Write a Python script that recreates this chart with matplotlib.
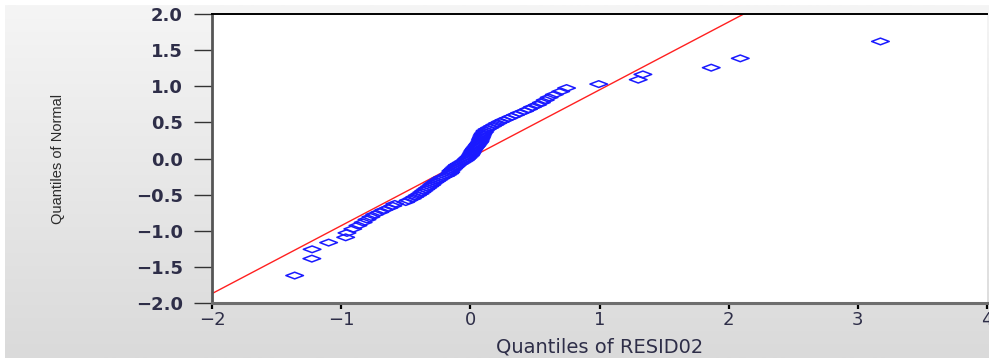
import numpy as np
import matplotlib
matplotlib.use("Agg")
import matplotlib.pyplot as plt
from matplotlib.path import Path
from matplotlib.colors import LinearSegmentedColormap

# ---- data ----
resid_q = [
    -1.36, -1.227, -1.225, -1.097, -0.965, -0.955, -0.91, -0.87, -0.83, -0.80,
    -0.77, -0.74, -0.70, -0.67, -0.63, -0.60, -0.585, -0.50, -0.48, -0.45,
    -0.43, -0.41, -0.39, -0.375, -0.36, -0.345, -0.33, -0.315, -0.30, -0.29,
    -0.275, -0.26, -0.245, -0.23, -0.215, -0.19, -0.175, -0.16, -0.152, -0.15,
    -0.14, -0.13, -0.12, -0.11, -0.10, -0.085, -0.07, -0.055, -0.04, -0.03,
    -0.02, -0.01, 0.0, 0.005, 0.01, 0.015, 0.02, 0.026, 0.032, 0.04,
    0.048, 0.055, 0.062, 0.07, 0.075, 0.078, 0.082, 0.086, 0.09, 0.095,
    0.10, 0.11, 0.115, 0.13, 0.15, 0.17, 0.19, 0.21, 0.235, 0.26,
    0.29, 0.32, 0.35, 0.38, 0.42, 0.45, 0.48, 0.52, 0.55, 0.58,
    0.61, 0.65, 0.70, 0.745, 0.994, 1.30, 1.336, 1.865, 2.09, 3.175,
]
normal_q = [
    -1.620, -1.386, -1.257, -1.164, -1.091, -1.030, -0.975, -0.928, -0.885, -0.845,
    -0.809, -0.774, -0.743, -0.712, -0.683, -0.656, -0.629, -0.603, -0.579, -0.555,
    -0.532, -0.510, -0.488, -0.467, -0.446, -0.426, -0.406, -0.386, -0.367, -0.348,
    -0.329, -0.311, -0.293, -0.275, -0.258, -0.240, -0.223, -0.206, -0.189, -0.172,
    -0.156, -0.139, -0.122, -0.106, -0.089, -0.073, -0.057, -0.041, -0.025, -0.008,
    0.008, 0.025, 0.041, 0.057, 0.073, 0.089, 0.106, 0.122, 0.139, 0.156,
    0.172, 0.189, 0.206, 0.223, 0.240, 0.258, 0.275, 0.293, 0.311, 0.329,
    0.348, 0.367, 0.386, 0.406, 0.426, 0.446, 0.467, 0.488, 0.510, 0.532,
    0.555, 0.579, 0.603, 0.629, 0.656, 0.683, 0.712, 0.743, 0.774, 0.809,
    0.845, 0.885, 0.928, 0.975, 1.030, 1.091, 1.164, 1.257, 1.386, 1.620,
]
fit_slope = 0.94
fit_intercept = 0.01
x_ticks = [-2, -1, 0, 1, 2, 3, 4]
y_ticks = [-2.0, -1.5, -1.0, -0.5, 0.0, 0.5, 1.0, 1.5, 2.0]
x_label = "Quantiles of RESID02"
y_label = "Quantiles of Normal"

W, H = 989, 358
fig = plt.figure(figsize=(W / 100, H / 100), dpi=100)
fig.patch.set_facecolor("white")

# gradient background
bg = fig.add_axes([5 / W, 0, 1 - 5 / W, 1 - 5 / H], zorder=0)
grad = np.linspace(0, 1, 256).reshape(-1, 1)
cmap = LinearSegmentedColormap.from_list("g", ["#f5f5f5", "#dadada"])
bg.imshow(grad, aspect="auto", cmap=cmap, extent=[0, 1, 0, 1], origin="upper")
bg.set_axis_off()

left, right = 212 / W, 987 / W
top, bottom = 1 - 14 / H, 1 - 303 / H
ax = fig.add_axes([left, bottom, right - left, top - bottom], zorder=1)
ax.set_facecolor("white")

ax.set_xlim(-2, 4)
ax.set_ylim(-2, 2)

# fitted reference line
lx = np.array([-2.0, 4.0])
ax.plot(lx, fit_intercept + fit_slope * lx, color="#ff2020", lw=1.0, zorder=2)

# flat diamond markers
diamond = Path([(-1, 0), (0, 0.38), (1, 0), (0, -0.38), (-1, 0)],
               [Path.MOVETO, Path.LINETO, Path.LINETO, Path.LINETO, Path.CLOSEPOLY])
ax.scatter(resid_q, normal_q, marker=diamond, s=160, facecolors="none",
           edgecolors="#1a1aff", linewidths=1.1, zorder=3)

# spines
ax.spines["top"].set_color("black")
ax.spines["top"].set_linewidth(1.4)
ax.spines["left"].set_color("#555555")
ax.spines["left"].set_linewidth(2.0)
ax.spines["bottom"].set_color("#6e6e6e")
ax.spines["bottom"].set_linewidth(2.2)
ax.spines["right"].set_visible(False)

tick_color = "#2e2e48"
ax.set_xticks(x_ticks)
ax.set_xticklabels([str(v).replace("-", "\u2212") if v < 0 else str(v) for v in x_ticks])
ax.set_yticks(y_ticks)
ax.set_yticklabels([("%.1f" % v).replace("-", "\u2212") for v in y_ticks])

ax.tick_params(axis="x", direction="out", length=4, width=1.6, color="black",
               pad=2, labelsize=13, labelcolor=tick_color)
ax.tick_params(axis="y", direction="out", length=13, width=1.0, color="#333333",
               pad=8, labelsize=13, labelcolor=tick_color)
for lab in ax.get_xticklabels() + ax.get_yticklabels():
    lab.set_fontfamily("DejaVu Sans")
for lab in ax.get_yticklabels():
    lab.set_fontweight("bold")

ax.set_xlabel(x_label, fontsize=14, color=tick_color, family="DejaVu Sans")
ax.xaxis.set_label_coords(0.5, (303 - 347) / 289)
ax.xaxis.label.set_va("center")

ax.set_ylabel(y_label, fontsize=10.5, color="#2a2a2a", family="Liberation Sans")
ax.yaxis.set_label_coords((58 - 212) / 775, 0.498)
ax.yaxis.label.set_va("center")

fig.savefig("out.png", dpi=100, facecolor=fig.get_facecolor())
